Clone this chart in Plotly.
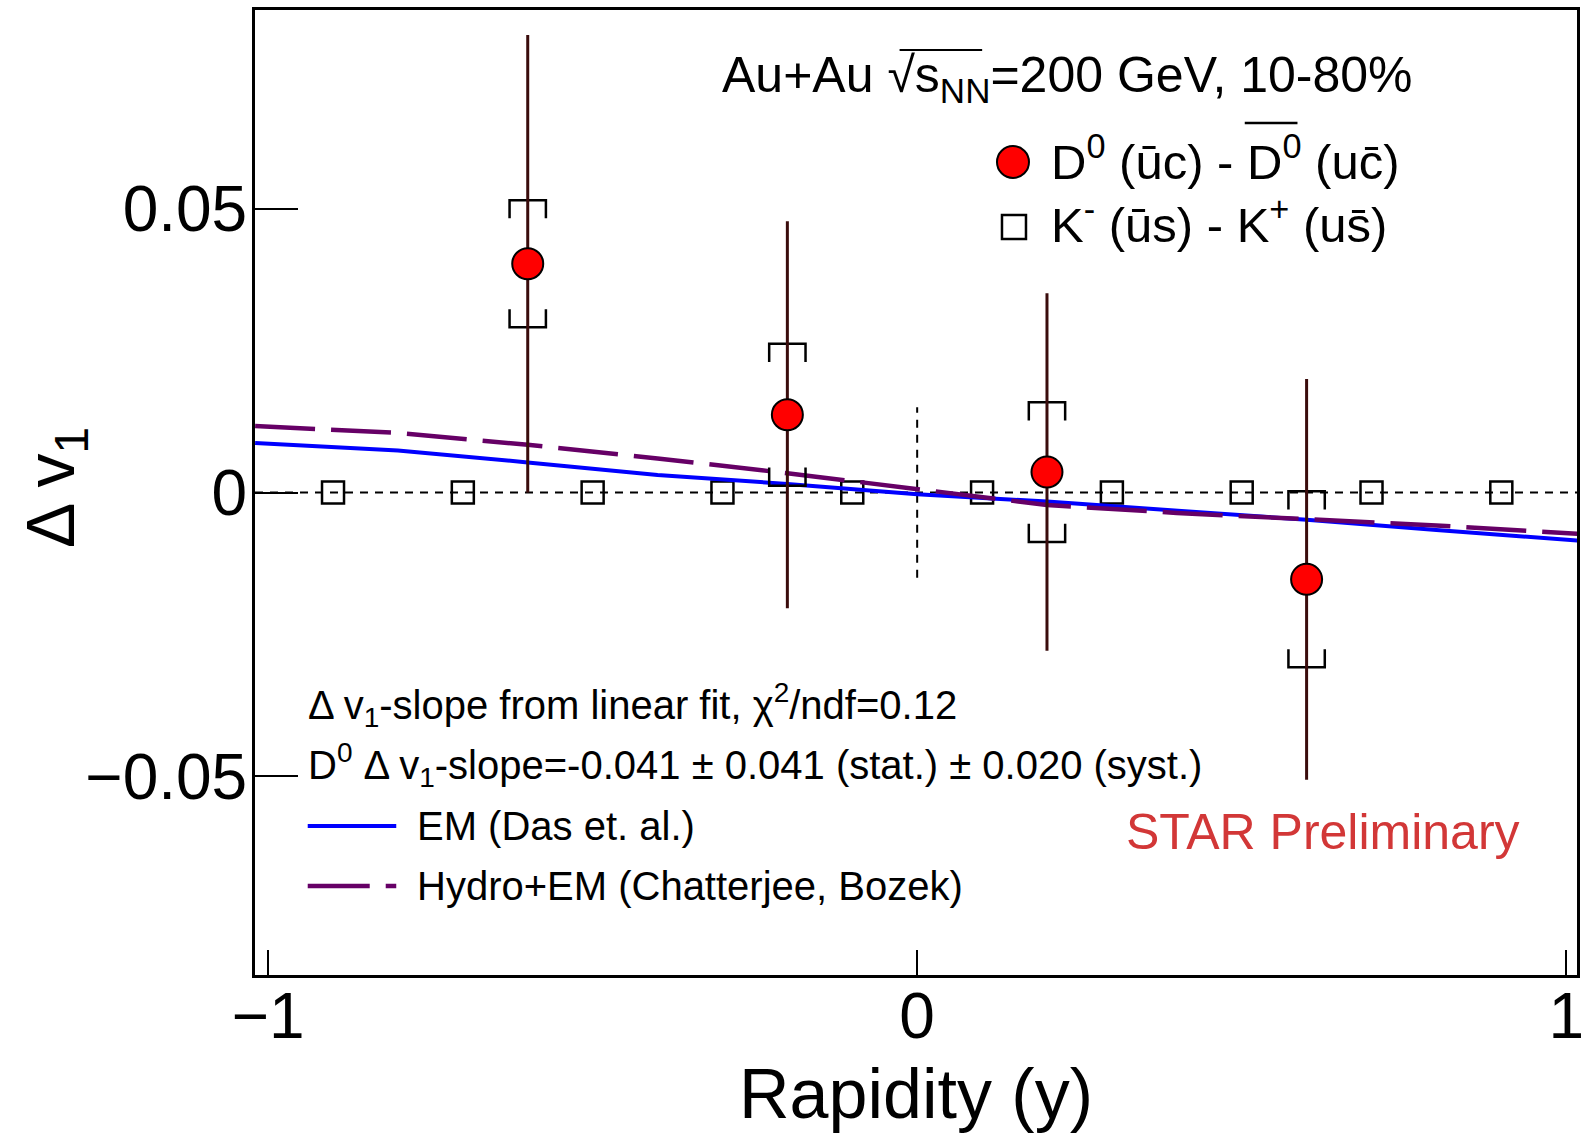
import plotly.graph_objects as go

# ---------------- data ----------------
d0_rap = [-0.6, -0.2, 0.2, 0.6]
d0_dv1 = [0.0403, 0.0137, 0.0036, -0.0153]
d0_stat = [0.0403, 0.0341, 0.0315, 0.0353]
d0_syst = [0.0112, 0.0125, 0.0123, 0.0155]

k_rap = [-0.9, -0.7, -0.5, -0.3, -0.1, 0.1, 0.3, 0.5, 0.7, 0.9]
k_dv1 = [0.0, 0.0, 0.0, 0.0, 0.0, 0.0, 0.0, 0.0, 0.0, 0.0]

em_rap = [-1.02, -0.8, -0.6, -0.4, -0.2, 0.0, 0.2, 0.4, 0.6, 0.8, 1.02]
em_dv1 = [0.0087, 0.0074, 0.0053, 0.0031, 0.0015, -0.0003, -0.0016, -0.0032, -0.0048, -0.0066, -0.0085]

hydro_rap = [-1.02, -0.8, -0.6, -0.4, -0.2, 0.0, 0.2, 0.4, 0.6, 0.8, 1.02]
hydro_dv1 = [0.0117, 0.0105, 0.0084, 0.0060, 0.0034, 0.0006, -0.0022, -0.0036, -0.0047, -0.0058, -0.0073]

x_ticks = [-1, 0, 1]
y_ticks = [-0.05, 0, 0.05]
x_range = [-1.0202, 1.0166]
y_range = [-0.085, 0.085]
zero_vline_span = [-0.015, 0.015]

# ---------------- layout geometry ----------------
W, H = 1586, 1133
ML, MR, MT, MB = 255, 2, 10, 158
PW, PH = W - ML - MR, H - MT - MB
FONT = "Liberation Sans, Arial, sans-serif"


def px(xp):
    return (xp - ML) / PW


def py(yp):
    return (H - MB - yp) / PH


# systematic brackets built from the data
BR_W = 0.028
BR_LEG = 0.0032
bx, by = [], []
for x, y, s in zip(d0_rap, d0_dv1, d0_syst):
    top, bot = y + s, y - s
    bx += [x - BR_W, x - BR_W, x + BR_W, x + BR_W, None,
           x - BR_W, x - BR_W, x + BR_W, x + BR_W, None]
    by += [top - BR_LEG, top, top, top - BR_LEG, None,
           bot + BR_LEG, bot, bot, bot + BR_LEG, None]

fig = go.Figure()

fig.add_trace(go.Scatter(
    x=k_rap, y=k_dv1, mode="markers",
    marker=dict(symbol="square-open", size=22, color="black", line=dict(width=2.5, color="black")),
    showlegend=False, hoverinfo="skip"))

fig.add_trace(go.Scatter(
    x=em_rap, y=em_dv1, mode="lines",
    line=dict(color="#0000ff", width=4), showlegend=False))

fig.add_trace(go.Scatter(
    x=hydro_rap, y=hydro_dv1, mode="lines",
    line=dict(color="#660066", width=4.5, dash="60px,16px"), showlegend=False))

fig.add_trace(go.Scatter(
    x=bx, y=by, mode="lines", connectgaps=False,
    line=dict(color="black", width=2.5), showlegend=False, hoverinfo="skip"))

fig.add_trace(go.Scatter(
    x=d0_rap, y=d0_dv1, mode="markers",
    error_y=dict(type="data", array=d0_stat, visible=True, thickness=3, width=0, color="#3a0c0c"),
    marker=dict(symbol="circle", size=31, color="#ff0000", line=dict(width=2, color="black")),
    showlegend=False))

shapes = [
    dict(type="line", xref="x", yref="y", x0=x_range[0], x1=x_range[1], y0=0, y1=0,
         line=dict(color="black", width=2, dash="8px,7px"), layer="below"),
    dict(type="line", xref="x", yref="y", x0=0, x1=0, y0=zero_vline_span[0], y1=zero_vline_span[1],
         line=dict(color="black", width=2, dash="8px,7px"), layer="below"),
    # legend markers
    dict(type="circle", xref="paper", yref="paper", xsizemode="pixel", ysizemode="pixel",
         xanchor=px(1017), yanchor=py(162), x0=-16, x1=16, y0=-16, y1=16,
         fillcolor="#ff0000", line=dict(color="black", width=2)),
    dict(type="rect", xref="paper", yref="paper", xsizemode="pixel", ysizemode="pixel",
         xanchor=px(1018), yanchor=py(227), x0=-12, x1=12, y0=-12, y1=12,
         fillcolor="rgba(0,0,0,0)", line=dict(color="black", width=2.5)),
    # legend line samples
    dict(type="line", xref="paper", yref="paper", x0=px(308), x1=px(397), y0=py(826), y1=py(826),
         line=dict(color="#0000ff", width=4)),
    dict(type="line", xref="paper", yref="paper", x0=px(308), x1=px(397), y0=py(886), y1=py(886),
         line=dict(color="#660066", width=4.5, dash="62px,16px")),
    # overline of sqrt
    dict(type="line", xref="paper", yref="paper", x0=px(903), x1=px(986), y0=py(50), y1=py(50),
         line=dict(color="black", width=2)),
    # overline of anti-D0
    dict(type="line", xref="paper", yref="paper", x0=px(1250), x1=px(1303), y0=py(123), y1=py(123),
         line=dict(color="black", width=2.5)),
]


def ann(text, x, y, size, xanchor="left", color="black", angle=0):
    return dict(text=text, xref="paper", yref="paper", x=px(x), y=py(y), xanchor=xanchor,
                yanchor="middle", showarrow=False, textangle=angle,
                font=dict(family=FONT, size=size, color=color))


annotations = [
    ann("Au+Au \u221as<sub>NN</sub>=200 GeV, 10-80%", 722, 78, 50),
    ann("D<sup>0</sup> (\u016bc) - D<sup>0</sup> (uc\u0304)", 1053, 158, 49),
    ann("K<sup>-</sup> (\u016bs) - K<sup>+</sup> (us\u0304)", 1053, 221, 49),
    ann("\u0394 v<sub>1</sub>-slope from linear fit, \u03c7<sup>2</sup>/ndf=0.12", 306, 705, 40),
    ann("D<sup>0</sup> \u0394 v<sub>1</sub>-slope=-0.041 \u00b1 0.041 (stat.) \u00b1 0.020 (syst.)", 306, 765, 40),
    ann("EM (Das et. al.)", 416, 826, 40),
    ann("Hydro+EM (Chatterjee, Bozek)", 416, 886, 40),
    ann("STAR Preliminary", 1129, 832, 50, color="#d23737"),
    ann("Rapidity (y)", 919, 1094, 70, xanchor="center"),
    ann("\u0394 v<sub>1</sub>", 54, 488, 68, xanchor="center", angle=-90),
]

fig.update_layout(
    width=W, height=H,
    margin=dict(l=ML, r=MR, t=MT, b=MB, pad=0),
    paper_bgcolor="white", plot_bgcolor="white",
    shapes=shapes, annotations=annotations,
    showlegend=False,
    font=dict(family=FONT, color="black"),
    xaxis=dict(range=x_range, tickvals=x_ticks, ticks="inside", ticklen=25, tickwidth=2,
               tickcolor="black", showline=True, linewidth=3, linecolor="black", mirror=True,
               showgrid=False, zeroline=False, tickfont=dict(family=FONT, size=64),
               ticklabelstandoff=-17, ticklabeloverflow="allow"),
    yaxis=dict(range=y_range, tickvals=y_ticks, ticks="inside", ticklen=43, tickwidth=2,
               tickcolor="black", showline=True, linewidth=3, linecolor="black", mirror=True,
               showgrid=False, zeroline=False, tickfont=dict(family=FONT, size=64),
               ticklabelstandoff=-8),
)

fig.write_html("out.html")
